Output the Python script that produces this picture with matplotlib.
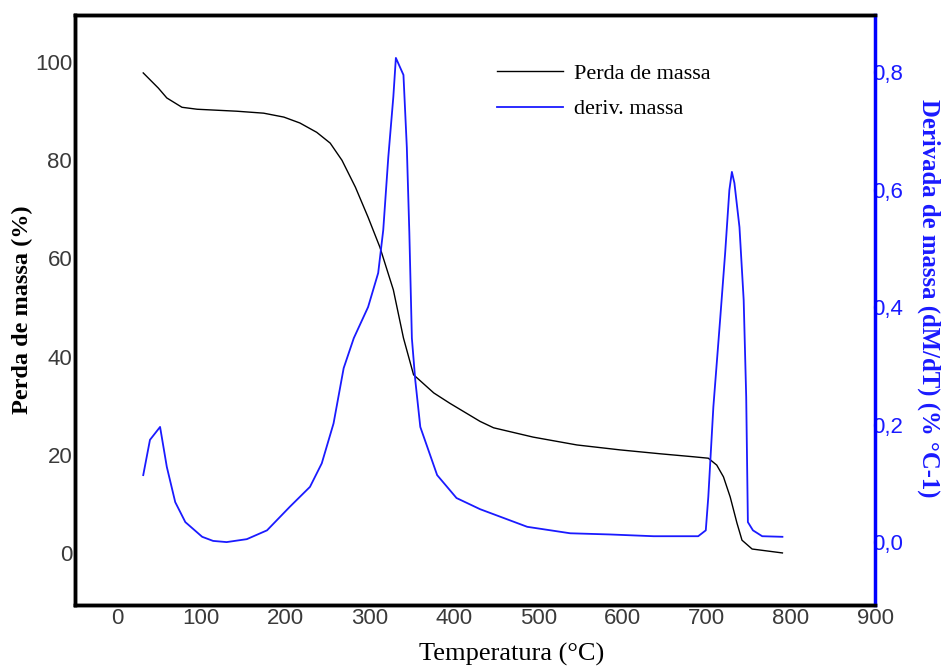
import numpy as np
import matplotlib
matplotlib.use("Agg")
import matplotlib.pyplot as plt
from matplotlib.ticker import FuncFormatter

# mass loss curve (TG), left axis
temp_tg = [31, 49, 59, 77, 95, 142, 174, 198, 217, 237, 253, 267, 283, 298, 312, 328,
           340, 352, 376, 395, 431, 447, 494, 546, 597, 645, 684, 702, 712, 720, 728,
           736, 742, 754, 790]
mass = [97.8, 94.7, 92.7, 90.8, 90.4, 90.0, 89.6, 88.8, 87.6, 85.7, 83.5, 80.0, 74.5,
        68.4, 62.3, 53.6, 43.8, 36.3, 32.6, 30.5, 26.8, 25.5, 23.6, 22.0, 21.0, 20.2,
        19.6, 19.3, 17.9, 15.5, 11.4, 6.1, 2.6, 0.8, 0.0]

# derivative curve (DTG), right axis
temp_dtg = [31, 39, 51, 59, 69, 81, 101, 114, 130, 154, 178, 205, 229, 243, 257, 269,
            281, 298, 310, 316, 322, 328, 331, 340, 344, 347, 350, 354, 360, 380, 403,
            431, 487, 538, 585, 637, 690, 699, 702, 708, 716, 722, 727, 730, 733, 739,
            744, 747, 749, 755, 766, 790]
deriv = [0.114, 0.174, 0.196, 0.128, 0.068, 0.034, 0.009, 0.002, 0.0, 0.005, 0.020,
         0.060, 0.094, 0.134, 0.202, 0.296, 0.347, 0.400, 0.458, 0.531, 0.655, 0.758,
         0.824, 0.795, 0.672, 0.526, 0.347, 0.276, 0.196, 0.114, 0.075, 0.056, 0.026,
         0.015, 0.013, 0.010, 0.010, 0.020, 0.077, 0.230, 0.378, 0.492, 0.599, 0.630,
         0.611, 0.536, 0.412, 0.247, 0.034, 0.020, 0.010, 0.009]

x_ticks = [0, 100, 200, 300, 400, 500, 600, 700, 800, 900]
left_ticks = [0, 20, 40, 60, 80, 100]
right_ticks = [0.0, 0.2, 0.4, 0.6, 0.8]

BLUE = "#1a1aff"
SERIF = ["Liberation Serif", "DejaVu Serif"]
SANS = ["Liberation Sans", "DejaVu Sans"]

fig = plt.figure(figsize=(9.46, 6.67), dpi=100)
ax = fig.add_axes([0.0793, 0.093, 0.8457, 0.8845])
ax2 = ax.twinx()

l1, = ax.plot(temp_tg, mass, color="black", lw=1.0, label="Perda de massa")
l2, = ax2.plot(temp_dtg, deriv, color=BLUE, lw=1.3, label="deriv. massa")

ax.set_xlim(-50, 900)
ax.set_ylim(-10.6, 109.6)
ax2.set_ylim(-0.107, 0.897)

ax.set_xticks(x_ticks)
ax.set_yticks(left_ticks)
ax2.set_yticks(right_ticks)
ax2.yaxis.set_major_formatter(FuncFormatter(lambda v, p: f"{v:.1f}".replace(".", ",")))

ax.tick_params(axis="both", length=0, labelsize=16, labelcolor="#3a3a3a", pad=2)
ax2.tick_params(axis="y", length=0, labelsize=16, labelcolor=BLUE, pad=-2)
for lab in ax.get_xticklabels() + ax.get_yticklabels() + ax2.get_yticklabels():
    lab.set_family(SANS)

for s in ("left", "bottom", "top"):
    ax.spines[s].set_linewidth(2.5)
    ax2.spines[s].set_linewidth(2.5)
ax2.spines["right"].set_color("#0000ff")
ax2.spines["right"].set_linewidth(2.5)
ax.spines["right"].set_visible(False)

ax.set_xlabel("Temperatura (°C)", family=SERIF, fontsize=19)
ax.xaxis.set_label_coords(0.546, -0.064)
ax.set_ylabel("Perda de massa (%)", family=SERIF, fontsize=17.5, fontweight="bold")
ax.yaxis.set_label_coords(-0.0525, 0.50)
ax2.set_ylabel("Derivada de massa (dM/dT) (% °C-1)", family=SERIF, fontsize=17.8,
               fontweight="bold", color=BLUE, rotation=270)
ax2.yaxis.set_label_coords(1.082, 0.52)

ax.legend([l1, l2], [l1.get_label(), l2.get_label()], loc="upper left",
          bbox_to_anchor=(0.5025, 0.952), frameon=False, handlelength=2.95,
          handletextpad=0.5, labelspacing=0.67, prop={"family": SERIF, "size": 16})

fig.savefig("out.png", dpi=100)
